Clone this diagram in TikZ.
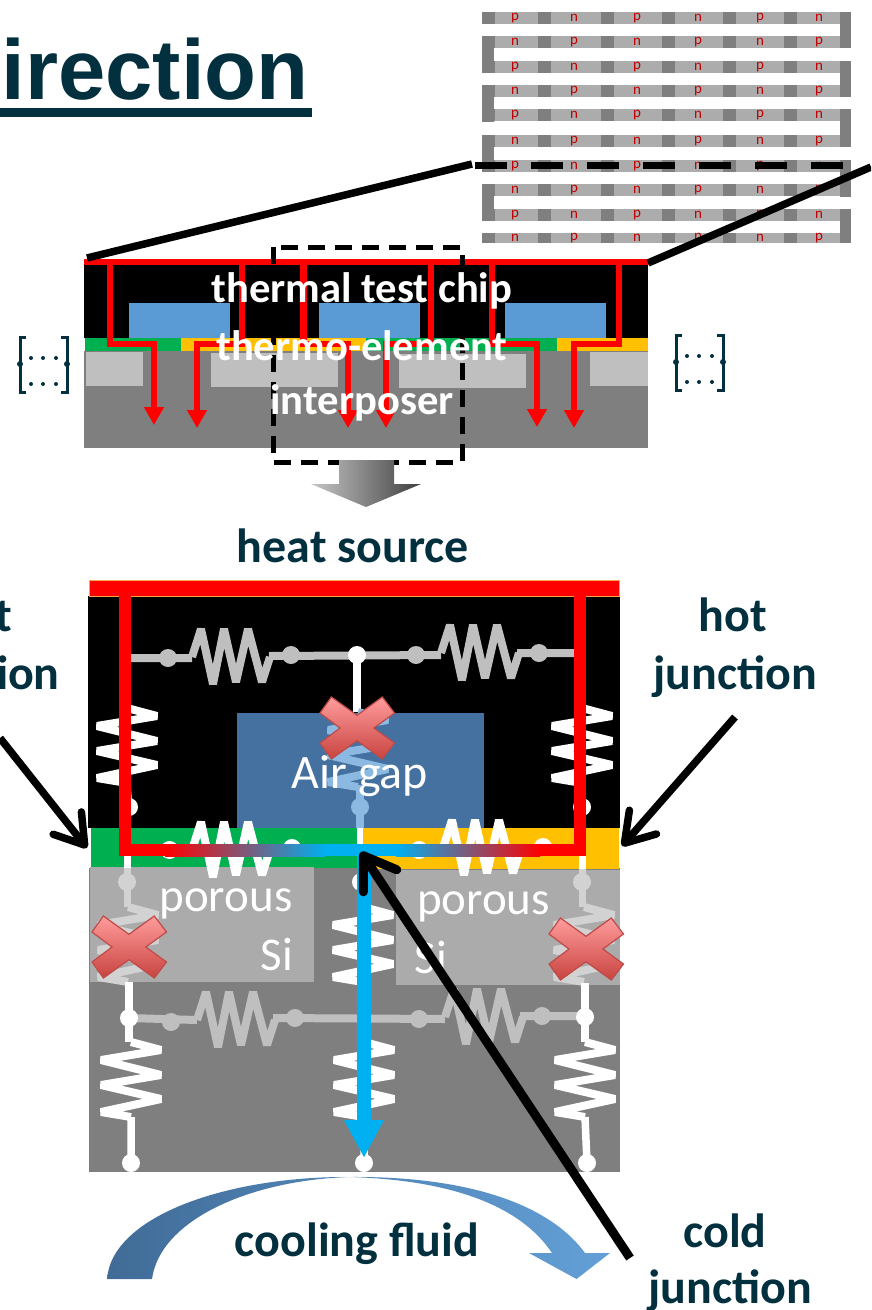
\documentclass[tikz,border=0pt]{standalone}
\usepackage{fontspec}
\setmainfont{Carlito}
\newfontfamily\titlefont{Liberation Sans}
\usetikzlibrary{arrows.meta}
\definecolor{inkteal}{HTML}{03303F}
\definecolor{chipblue}{HTML}{5B9BD5}
\definecolor{gapblue}{HTML}{44719F}
\definecolor{tegreen}{HTML}{00B050}
\definecolor{teyellow}{HTML}{FFC000}
\definecolor{sigrey}{HTML}{7F7F7F}
\definecolor{poreslight}{HTML}{BFBFBF}
\definecolor{poresdark}{HTML}{ABABAB}
\definecolor{coolblue}{HTML}{00B0F0}
\definecolor{crosstop}{HTML}{FF9C9C}
\definecolor{crossbot}{HTML}{C84440}
\definecolor{crossline}{HTML}{BE4B48}
\tikzset{
  headlab/.style={text=inkteal, font=\bfseries\fontsize{48}{48}\selectfont},
  chiplab/.style={text=white, font=\bfseries\fontsize{42.6}{43}\selectfont},
  thinlab/.style={text=white, font=\fontsize{47}{47}\selectfont},
  layoutlab/.style={text=red!75!black, font=\fontsize{15}{15}\selectfont, inner sep=0},
  redflow/.style={red, line width=6.5, -{Triangle[width=19,length=18]}},
  blackline/.style={black, line width=7.5},
  resh/.pic={\draw[line width=8, line join=bevel] (0,0) -- (9,-28) -- (21,27) -- (32,-28) -- (44,25) -- (56,-28) -- (70,25) -- (78,0);},
  resv/.pic={\draw[line width=8, line join=bevel] (0,0) -- (30,8) -- (-30,18) -- (30,33) -- (-30,43) -- (30,57) -- (-30,70) -- (0,75);},
  crossmark/.pic={\path[draw=crossline, line width=1.2, top color=crosstop, bottom color=crossbot]
    (-25.6,-31) -- (0,-12.7) -- (25.3,-31) -- (37.5,-15) -- (16.8,0) -- (37.5,15) -- (25.3,31) -- (0,12.7) -- (-25.6,31) -- (-37,15) -- (-17,0) -- (-37,-15) -- cycle;}
}
\begin{document}
\begin{tikzpicture}[x=1pt, y=-1pt]
  \useasboundingbox (0,0) rectangle (871,1310);
  \path[clip] (0,0) rectangle (871,1310);
  % title
  \node[text=inkteal, font=\titlefont\bfseries\fontsize{85}{85}\selectfont, anchor=base east, inner sep=0] (title) at (309,99) {Direction};
  \fill[inkteal] (0,108) rectangle (312,117);
  % layout strip
  \foreach \rowy in {12,36,61,85,109,135,160,184,209}
    \fill[poreslight!70!gray] (482,\rowy) rectangle (851,\rowy+12);
  \fill[poreslight!70!gray] (482,233) rectangle (851,243);
  \foreach \rowy/\rowh in {12/12,36/12,61/12,85/12,109/12,135/12,160/12,184/12,209/12,233/10}
    \foreach \cx in {482,538,601,662,723,784}
      \fill[sigrey] (\cx,\rowy) rectangle (\cx+12.5,\rowy+\rowh);
  \foreach \ya/\yb in {12/48,61/97,109/147,160/197,209/243}
    \fill[sigrey] (840,\ya) rectangle (851,\yb);
  \foreach \ya/\yb in {36/73,85/122,135/172,184/221}
    \fill[sigrey] (482,\ya) rectangle (494,\yb);
  \foreach \rowy in {18,67,115,166,215}
    \foreach \lx/\ltr in {515/p,574/n,637/p,698/n,760/p,819/n}
      \node[layoutlab] at (\lx,\rowy) {\ltr};
  \foreach \rowy in {42,91,141,190,238}
    \foreach \lx/\ltr in {515/n,574/p,637/n,698/p,760/n,819/p}
      \node[layoutlab] at (\lx,\rowy) {\ltr};
  % stack
  \fill[black] (84,265) rectangle (648,338);
  \foreach \bx in {129,319,505}
    \fill[chipblue] (\bx,303) rectangle (\bx+101,338);
  \fill[tegreen] (85,338) rectangle (181,351);
  \fill[teyellow] (181,338) rectangle (366,351);
  \fill[tegreen] (366,338) rectangle (557,351);
  \fill[teyellow] (557,338) rectangle (648,351);
  \fill[sigrey] (84,351) rectangle (648,448);
  \fill[poreslight] (86,352) rectangle (143,386);
  \fill[poreslight] (211,353) rectangle (338,387);
  \fill[poreslight] (399,354) rectangle (526,388);
  \fill[poreslight] (590,352) rectangle (648,386);
  \foreach \xa/\xb/\ytip in {110/154/425,242/197/428,303.5/348/428,431/386/428,492/537/427,619/574/428}
    \draw[redflow] (\xa,262) -- (\xa,344) -- (\xb,344) -- (\xb,\ytip);
  \fill[red] (84,259) rectangle (649,265);
  \coordinate (stackL) at (87,258);
  \coordinate (stackR) at (648,263);
  \coordinate (stripL) at (472,164);
  \coordinate (stripR) at (871,167);
  \draw[blackline] (stackL) -- (stripL);
  \draw[blackline] (stackR) -- (stripR);
  \draw[black, line width=7, dash pattern=on 32 off 24] (475,165) -- (845,165);
  \draw[black, line width=5, dash pattern=on 17 off 10] (273,247) rectangle (462,462);
  \node[chiplab] (chip) at (362,291) {thermal test chip};
  \node[chiplab] (te) at (362,346) {thermo-element};
  \node[chiplab] (inter) at (362,403) {interposer};
  % brackets
  \foreach \bx/\by in {20/337,676/335} {
    \begin{scope}[shift={(\bx,\by)}]
      \draw[inkteal, line width=3] (6,0) -- (0,0) -- (0,55) -- (6,55);
      \draw[inkteal, line width=3] (41,0) -- (47,0) -- (47,55) -- (41,55);
      \fill[inkteal] (0,27) circle (3) (47,27) circle (3);
      \foreach \dy in {21,47}
        \foreach \dx in {11,23,36}
          \fill[inkteal] (\dx,\dy) circle (2);
    \end{scope}
  }
  % zoom arrow
  \path[left color=gray!45, right color=black!75] (339,460) -- (394,460) -- (394,484) -- (421,484) -- (366,507) -- (311,484) -- (339,484) -- cycle;
  \node[headlab] (source) at (353,546) {heat source};
  % unit cell
  \fill[black] (88,596) rectangle (620,828);
  \fill[gapblue] (237,713) rectangle (484,828);
  \fill[sigrey] (89,868) rectangle (620,1172);
  \fill[tegreen] (91,828) rectangle (357,868);
  \fill[white] (357,828) rectangle (363,868);
  \fill[teyellow] (363,828) rectangle (619,869);
  \fill[poresdark] (89.5,867) rectangle (314,982);
  \fill[poresdark] (396,870) rectangle (620,985);
  % network, black part
  \draw[poreslight, line width=8] (131,658) -- (192,658) (269,656) -- (441,655) (517,653) -- (574,653);
  \pic[poreslight] at (192,657) {resh};
  \pic[poreslight] at (441,653) {resh};
  \fill[poreslight] (168,658) circle (9) (291,655) circle (9) (416,655) circle (9) (539,653) circle (9);
  \draw[white, line width=7.5] (357,655) -- (357,712);
  \fill[white] (357,655) circle (9);
  \pic[white] at (127,708) {resv};
  \pic[white] at (582,708) {resv};
  \draw[white, line width=7] (127,783) -- (129,807) (582,783) -- (582,807);
  \fill[white] (129,807) circle (9) (582,807) circle (9);
  \pic[color=chipblue!70!white] at (358,712) {resv};
  \draw[chipblue!70!white, line width=7.5] (360,785) -- (360,828);
  \fill[chipblue!70!white] (360,807) circle (9);
  % network, thermo-element
  \pic[white] at (192,850) {resh};
  \pic[white] at (443,848) {resh};
  \fill[white] (169.5,850) circle (9) (292,848) circle (9) (419,850) circle (9) (543,847) circle (9);
  \draw[white, line width=7] (127,856) -- (127,868) (582,856) -- (582,869);
  % network, porous part
  \draw[poreslight!70!white, line width=7] (127,868) -- (127,907) (582,869) -- (582,907);
  \fill[poreslight!70!white] (127,882) circle (9) (582,882) circle (9);
  \pic[poreslight!70!white] at (128,907) {resv};
  \pic[poreslight!70!white] at (584,907) {resv};
  \fill[white] (361,882) circle (9);
  \pic[white] at (363,907) {resv};
  % network, substrate
  \draw[poreslight, line width=8] (129,1018) -- (197,1020) (273,1018) -- (445,1019) (520,1016) -- (585,1016);
  \pic[poreslight] at (197,1020) {resh};
  \pic[poreslight] at (445,1017) {resh};
  \fill[poreslight] (171,1022) circle (9) (295,1018) circle (9) (419,1019) circle (9) (542,1016) circle (9);
  \draw[white, line width=7.5] (129,982) -- (129,1042) (585,983) -- (585,1042);
  \fill[white] (129,1018) circle (9) (585,1017) circle (9);
  \pic[white] at (131,1042) {resv};
  \pic[white] at (585,1042) {resv};
  \pic[white] at (364,1042) {resv};
  \draw[white, line width=7.5] (131,1117) -- (131,1163) (585,1117) -- (587,1163) (364,1117) -- (364,1163);
  \fill[white] (131,1163) circle (9) (364,1163) circle (9) (587,1163) circle (9);
  % heat path
  \fill[red] (89,580) rectangle (619,596);
  \draw[orange!70, line width=0.6] (89,580) rectangle (619,596);
  \fill[red] (119,596) rectangle (131,856);
  \fill[red] (574,596) rectangle (586,856);
  \fill[red] (131,844) rectangle (165,856);
  \shade[left color=red, right color=coolblue] (165,844) rectangle (325,856);
  \fill[coolblue] (325,844) rectangle (396,856);
  \shade[left color=coolblue, right color=red] (396,844) rectangle (540,856);
  \fill[red] (540,844) rectangle (574,856);
  \draw[coolblue, line width=13.5, -{Triangle[width=37,length=38]}] (364,850) -- (364,1158);
  % texts
  \node[thinlab, font=\fontsize{48}{48}\selectfont] (gap) at (360,776) {Air gap};
  \node[thinlab] (poroL) at (226,904) {porous};
  \node[thinlab] (poroR) at (483.5,907) {porous};
  \node[thinlab] (siL) at (277,954) {Si};
  \node[thinlab] (siR) at (431,957) {Si};
  \pic at (357,728) {crossmark};
  \pic at (129,947) {crossmark};
  \pic at (586,949) {crossmark};
  % fluid
  \path[left color=gapblue!95!black, right color=chipblue!95!white]
    (107,1279) .. controls (112,1215) and (230,1176) .. (350,1177)
    .. controls (470,1176) and (550,1205) .. (585,1253)
    -- (610,1253) -- (576.5,1279) -- (529,1253) -- (552,1253)
    .. controls (520,1205) and (450,1180) .. (350,1177)
    .. controls (250,1180) and (160,1220) .. (152,1279) -- cycle;
  \node[headlab] (fluid) at (357,1244) {cooling fluid};
  % junction labels
  \node[headlab] (hotA) at (733,615) {hot};
  \node[headlab] (hotB) at (735,677) {junction};
  \node[headlab] (hotC) at (-22,615) {hot};
  \node[headlab] (hotD) at (-22,677) {junction};
  \node[headlab] (coldA) at (725,1231) {cold};
  \node[headlab] (coldB) at (730,1291) {junction};
  \coordinate (hotLtail) at (0,738);
  \coordinate (hotLtip) at (87,848);
  \coordinate (hotRtail) at (735,717);
  \coordinate (hotRtip) at (622,846);
  \coordinate (coldtail) at (630,1258);
  \coordinate (coldtip) at (361,852);
  \draw[blackline, -{Straight Barb[length=28,width=36,round]}] (hotLtail) -- (hotLtip);
  \draw[blackline, -{Straight Barb[length=28,width=36,round]}] (hotRtail) -- (hotRtip);
  \draw[blackline, line width=9, -{Straight Barb[length=30,width=40,round]}] (coldtail) -- (coldtip);
\end{tikzpicture}
\end{document}
